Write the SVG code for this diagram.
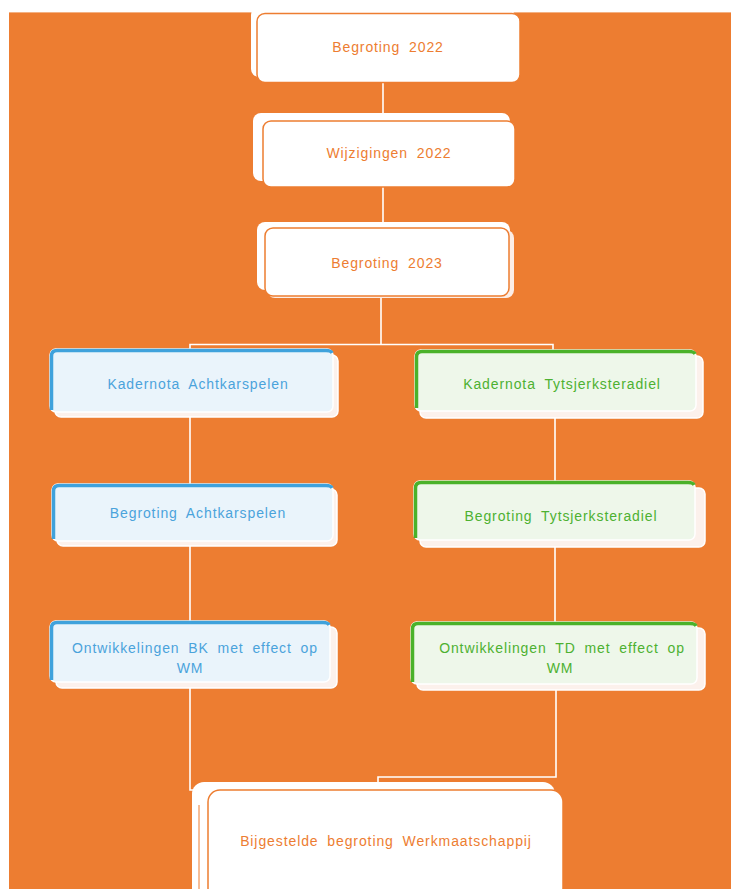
<svg xmlns="http://www.w3.org/2000/svg" width="731" height="889" viewBox="0 0 731 889">
<style>
.t{font-family:"Liberation Sans","DejaVu Sans",sans-serif;font-size:14px;letter-spacing:0.9px;word-spacing:4px;text-anchor:middle}
.to{fill:#ED7D31}
.tb{fill:#4AA3DB}
.tg{fill:#4DB131}
.back{fill:#FFFFFF}
.front{fill:#FFFFFF;stroke:#ED7D31;stroke-width:1.5}
.bback{fill:#FCF1EC;stroke:#FFFFFF;stroke-width:1.5}
.bfront{fill:#EAF4FB;stroke:#FFFFFF;stroke-width:1.5}
.gfront{fill:#EEF7EA;stroke:#FFFFFF;stroke-width:1.5}
.bacc{fill:none;stroke:#3FA2DC;stroke-width:3.5}
.gacc{fill:none;stroke:#4AB22A;stroke-width:3.5}
.c{fill:none;stroke:#FFFFFF;stroke-width:1.6}
</style>
<rect x="0" y="0" width="731" height="889" fill="#FFFFFF"/>
<rect x="9" y="12" width="722" height="877" fill="#ED7D31"/>
<line x1="9" y1="12.5" x2="731" y2="12.5" stroke="#F4B183" stroke-width="1"/>

<g id="connectors">
<line class="c" x1="383" y1="82" x2="383" y2="121"/>
<line class="c" x1="383" y1="187" x2="383" y2="228"/>
<path class="c" d="M381 297 V344.5 M190 355 V344.5 H553 V355"/>
<line class="c" x1="190" y1="412" x2="190" y2="484"/>
<line class="c" x1="190" y1="540" x2="190" y2="621"/>
<path class="c" d="M190 682 V790 H204"/>
<line class="c" x1="555" y1="410" x2="555" y2="481"/>
<line class="c" x1="555" y1="540" x2="555" y2="622"/>
<path class="c" d="M556 690 V777 H378 V783"/>
</g>

<g id="n1">
<rect class="back" x="251" y="7" width="263" height="70" rx="8"/>
<rect class="front" x="257" y="13.5" width="263" height="69" rx="8"/>
<text class="t to" x="388" y="52">Begroting 2022</text>
</g>

<g id="n2">
<rect class="back" x="253" y="113" width="257" height="68" rx="8"/>
<rect class="front" x="263" y="121" width="252" height="66" rx="8"/>
<text class="t to" x="389" y="158">Wijzigingen 2022</text>
</g>

<g id="n3">
<rect class="back" x="257" y="222" width="253" height="68" rx="8"/>
<rect x="267" y="230" width="247" height="68" rx="8" fill="#FCEEE7"/>
<rect class="front" x="265" y="228" width="244" height="68" rx="8"/>
<text class="t to" x="387" y="268">Begroting 2023</text>
</g>

<g id="n4">
<rect class="bback" x="55" y="355" width="283" height="62" rx="6"/>
<rect class="bfront" x="50" y="349" width="283" height="63" rx="6"/>
<path class="bacc" d="M51.5 410 V356 Q51.5 350.5 57 350.5 H326 Q331 350.5 332 353"/>
<text class="t tb" x="198" y="389">Kadernota Achtkarspelen</text>
</g>

<g id="n5">
<rect class="bback" x="420" y="356" width="283" height="62" rx="6"/>
<rect class="gfront" x="415" y="350" width="281" height="61" rx="6"/>
<path class="gacc" d="M416.5 408 V357 Q416.5 351.5 422 351.5 H689 Q694 351.5 695 354"/>
<text class="t tg" x="562" y="389">Kadernota Tytsjerksteradiel</text>
</g>

<g id="n6">
<rect class="bback" x="57" y="489" width="280" height="57" rx="6"/>
<rect class="bfront" x="52" y="484" width="281" height="57" rx="6"/>
<path class="bacc" d="M53.5 539 V491 Q53.5 485.5 59 485.5 H326 Q331 485.5 332 488"/>
<text class="t tb" x="198" y="518">Begroting Achtkarspelen</text>
</g>

<g id="n7">
<rect class="bback" x="420" y="488" width="285" height="59" rx="6"/>
<rect class="gfront" x="414" y="481" width="281" height="59" rx="6"/>
<path class="gacc" d="M415.5 538 V488 Q415.5 482.5 421 482.5 H688 Q693 482.5 694 485"/>
<text class="t tg" x="561" y="521">Begroting Tytsjerksteradiel</text>
</g>

<g id="n8">
<rect class="bback" x="56" y="627" width="281" height="61" rx="6"/>
<rect class="bfront" x="50" y="621" width="280" height="61" rx="6"/>
<path class="bacc" d="M51.5 680 V628 Q51.5 622.5 57 622.5 H323 Q328 622.5 329 625"/>
<text class="t tb" x="195" y="653">Ontwikkelingen  BK met effect op</text>
<text class="t tb" x="190" y="673">WM</text>
</g>

<g id="n9">
<rect class="bback" x="417" y="628" width="288" height="62" rx="6"/>
<rect class="gfront" x="411" y="622" width="286" height="62" rx="6"/>
<path class="gacc" d="M412.5 682 V629 Q412.5 623.5 418 623.5 H690 Q695 623.5 696 626"/>
<text class="t tg" x="562" y="653">Ontwikkelingen  TD met effect op</text>
<text class="t tg" x="560" y="673">WM</text>
</g>

<g id="n10">
<rect class="back" x="192" y="782" width="363" height="120" rx="12"/>
<rect x="198" y="800" width="8" height="95" fill="#FFFFFF"/>
<line x1="199" y1="805" x2="199" y2="889" stroke="#ED7D31" stroke-width="1"/>
<rect class="front" x="208" y="790" width="355" height="110" rx="12"/>
<text class="t to" x="386" y="846">Bijgestelde  begroting Werkmaatschappij</text>
</g>
</svg>
